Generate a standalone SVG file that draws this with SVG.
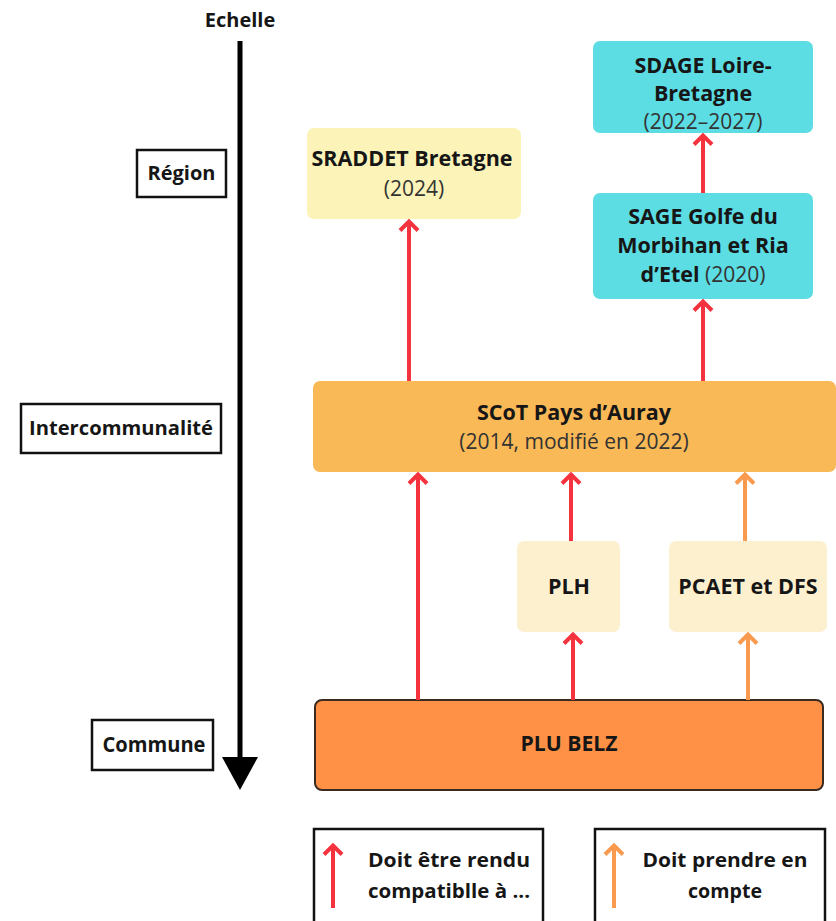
<svg xmlns="http://www.w3.org/2000/svg" width="836" height="921" viewBox="0 0 836 921">
<style>
text{font-family:"Open Sans","Noto Sans","Liberation Sans",sans-serif;font-size:21.5px;fill:#161616;text-anchor:middle}
.b{font-weight:bold}
.r{font-weight:normal;fill:#333;font-size:21px}
.lbl{fill:#fff;stroke:#111;stroke-width:2.5}
.red{stroke:#F5333F;stroke-width:4;fill:none}
.org{stroke:#F99A4F;stroke-width:4;fill:none}
</style>
<defs>
<marker id="hr" viewBox="0 0 14 22" refX="12" refY="11" markerWidth="14" markerHeight="22" markerUnits="userSpaceOnUse" orient="auto">
<path d="M2.5 2 L11.5 11 L2.5 20" fill="none" stroke="#F5333F" stroke-width="4"/>
</marker>
<marker id="ho" viewBox="0 0 14 22" refX="12" refY="11" markerWidth="14" markerHeight="22" markerUnits="userSpaceOnUse" orient="auto">
<path d="M2.5 2 L11.5 11 L2.5 20" fill="none" stroke="#F99A4F" stroke-width="4"/>
</marker>
</defs>
<rect width="836" height="921" fill="#fff"/>

<g id="axis">
<text x="240" y="27" class="b" style="font-size:20px">Echelle</text>
<line x1="240" y1="41" x2="240" y2="760" stroke="#000" stroke-width="5"/>
<polygon points="222,757 258,757 240,790" fill="#000"/>
</g>
<g id="region"><rect class="lbl" x="137" y="150" width="89" height="47"/><text x="181.5" y="180" class="b" style="font-size:20px">Région</text></g>
<g id="interco"><rect class="lbl" x="21" y="404" width="200" height="49"/><text x="121" y="435" class="b" style="font-size:20px" textLength="184" lengthAdjust="spacingAndGlyphs">Intercommunalité</text></g>
<g id="commune"><rect class="lbl" x="92" y="720" width="121" height="50"/><text x="154" y="752" class="b" style="font-size:22px" textLength="103" lengthAdjust="spacingAndGlyphs">Commune</text></g>

<g id="sraddet"><rect x="307" y="128" width="214" height="91" rx="7" fill="#FBF3B8"/>
<text x="412" y="166" class="b">SRADDET Bretagne</text><text x="414" y="196" class="r">(2024)</text></g>
<g id="sdage"><rect x="593" y="41" width="220" height="92" rx="7" fill="#5CDCE3"/>
<text x="703" y="73" class="b">SDAGE Loire-</text><text x="703" y="101" class="b">Bretagne</text><text x="703" y="129" class="r">(2022–2027)</text></g>
<g id="sage"><rect x="593" y="193" width="220" height="106" rx="7" fill="#5CDCE3"/>
<text x="703" y="224" class="b">SAGE Golfe du</text><text x="703" y="253" class="b">Morbihan et Ria</text><text x="703" y="282"><tspan class="b">d’Etel</tspan><tspan class="r"> (2020)</tspan></text></g>
<g id="scot"><rect x="313" y="381" width="523" height="91" rx="7" fill="#F9B957"/>
<text x="574" y="420" class="b">SCoT Pays d’Auray</text><text x="574" y="449" class="r">(2014, modifié en 2022)</text></g>
<g id="plh"><rect x="517" y="541" width="103" height="91" rx="7" fill="#FDF0CF"/><text x="569" y="594" class="b">PLH</text></g>
<g id="pcaet"><rect x="669" y="541" width="158" height="91" rx="7" fill="#FDF0CF"/><text x="748" y="594" class="b">PCAET et DFS</text></g>
<g id="plu"><rect x="315" y="700" width="508" height="90" rx="7" fill="#FF9147" stroke="#3a2a20" stroke-width="2"/><text x="569" y="751" class="b" style="font-size:22px" textLength="97" lengthAdjust="spacingAndGlyphs">PLU BELZ</text></g>

<g id="connectors">
<line class="red" x1="409" y1="381" x2="409" y2="221" marker-end="url(#hr)"/>
<line class="red" x1="703" y1="193" x2="703" y2="135" marker-end="url(#hr)"/>
<line class="red" x1="703" y1="381" x2="703" y2="301" marker-end="url(#hr)"/>
<line class="red" x1="418" y1="700" x2="418" y2="474" marker-end="url(#hr)"/>
<line class="red" x1="571" y1="541" x2="571" y2="474" marker-end="url(#hr)"/>
<line class="red" x1="573" y1="700" x2="573" y2="634" marker-end="url(#hr)"/>
<line class="org" x1="745" y1="541" x2="745" y2="474" marker-end="url(#ho)"/>
<line class="org" x1="748" y1="700" x2="748" y2="634" marker-end="url(#ho)"/>
</g>

<g id="legend-compat"><rect class="lbl" x="314" y="829" width="229" height="100"/>
<line class="red" x1="333" y1="908" x2="333" y2="845" marker-end="url(#hr)"/>
<text x="449" y="867" class="b" style="font-size:20px" textLength="162" lengthAdjust="spacingAndGlyphs">Doit être rendu</text><text x="449" y="898" class="b" style="font-size:20px" textLength="162" lengthAdjust="spacingAndGlyphs">compatiblle à ...</text></g>
<g id="legend-compte"><rect class="lbl" x="595" y="829" width="230" height="100"/>
<line class="org" x1="614" y1="908" x2="614" y2="845" marker-end="url(#ho)"/>
<text x="725" y="867" class="b" style="font-size:20px" textLength="165" lengthAdjust="spacingAndGlyphs">Doit prendre en</text><text x="725" y="898" class="b" style="font-size:20px" textLength="74" lengthAdjust="spacingAndGlyphs">compte</text></g>
</svg>
